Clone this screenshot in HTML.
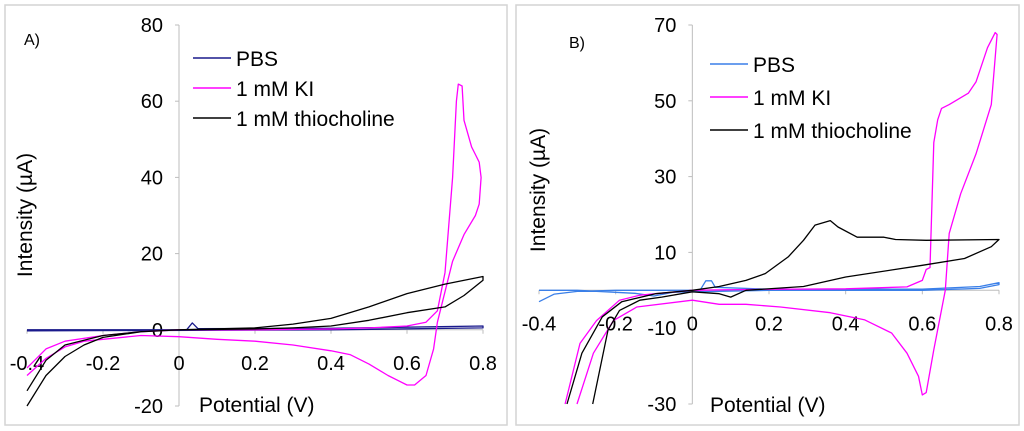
<!DOCTYPE html>
<html><head><meta charset="utf-8"><style>
html,body{margin:0;padding:0;background:#fff;}
svg{display:block;font-family:"Liberation Sans",Arial,sans-serif;}
</style></head><body>
<svg id="c" width="1024" height="431" viewBox="0 0 1024 431" xmlns="http://www.w3.org/2000/svg">
<rect x="5" y="5" width="502" height="420" fill="#fff" stroke="#d4d4d4" stroke-width="1.5"/>
<rect x="516" y="5" width="503" height="420" fill="#fff" stroke="#d4d4d4" stroke-width="1.5"/>
<g id="ga"></g>
<g id="gb"></g>
</svg>
<script>
// ---- Panel A data ----
const xTicksA = [-0.4,-0.2,0,0.2,0.4,0.6,0.8];
const yTicksA = [-20,0,20,40,60,80];
const pbsA = [[-0.4,0],[0.02,0],[0.035,1.8],[0.05,0.3],[0.4,0.4],[0.8,1],[0.8,0.5],[0.4,0],[-0.4,-0.3]];
const kiA = [[-0.4,-10],[-0.35,-5],[-0.3,-3],[-0.2,-1.5],[-0.1,-0.5],[0,0],[0.2,0],[0.4,0.2],[0.5,0.5],[0.6,1],[0.65,2],[0.68,5],[0.7,15],[0.72,40],[0.73,60],[0.735,64.5],[0.745,64],[0.75,55],[0.77,48],[0.78,46],[0.79,44],[0.795,40],[0.79,33],[0.78,30],[0.75,25],[0.72,18],[0.7,10],[0.68,2],[0.67,-5],[0.65,-12],[0.62,-14.5],[0.6,-14.5],[0.55,-12],[0.5,-9],[0.45,-6.5],[0.4,-5.5],[0.3,-4],[0.2,-3],[0.1,-2.5],[0,-1.8],[-0.1,-1.5],[-0.2,-2.5],[-0.25,-3],[-0.3,-4.5],[-0.35,-7.5],[-0.4,-12]];
const thioA = [[-0.4,-20],[-0.35,-12],[-0.3,-7],[-0.25,-4],[-0.2,-2],[-0.1,-0.5],[0,0],[0.2,0.5],[0.3,1.5],[0.4,3],[0.5,6],[0.6,9.5],[0.7,12],[0.8,14],[0.8,13],[0.75,9],[0.7,6],[0.6,4.5],[0.5,2.5],[0.4,1],[0.3,0.5],[0.2,0.2],[0,0],[-0.1,-0.5],[-0.2,-1.5],[-0.3,-4],[-0.35,-8],[-0.4,-16]];
// ---- Panel B data ----
const xTicksB = [-0.4,-0.2,0,0.2,0.4,0.6,0.8];
const yTicksB = [-30,-10,10,30,50,70];
const pbsB = [[-0.4,-3],[-0.36,-1],[-0.3,-0.3],[-0.2,0],[0,0],[0.02,0],[0.035,2.5],[0.05,2.5],[0.06,0.8],[0.2,0.3],[0.6,0.3],[0.75,1],[0.8,2],[0.8,1.5],[0.75,0.5],[0.6,0],[0.2,0],[-0.05,-0.5],[-0.1,-1.5],[-0.15,-0.8],[-0.3,0],[-0.4,0]];
const kiB = [[-0.332,-30],[-0.293,-14],[-0.25,-8],[-0.19,-2.6],[-0.137,-1.3],[0,0],[0.14,0.2],[0.4,0.4],[0.56,0.9],[0.6,2.6],[0.61,5.5],[0.62,6],[0.63,39],[0.64,45],[0.65,48],[0.67,49],[0.72,52],[0.74,55],[0.77,64],[0.79,68],[0.795,67.5],[0.78,49],[0.74,36],[0.7,25.5],[0.67,15],[0.66,0],[0.63,-15.7],[0.61,-27],[0.6,-27.6],[0.59,-22.7],[0.56,-16.6],[0.52,-11.3],[0.45,-7.8],[0.36,-5.9],[0.23,-4.4],[0.14,-3.7],[0.07,-3.7],[0,-2.6],[-0.145,-4.4],[-0.206,-8],[-0.258,-16.6],[-0.301,-30]];
const thioB = [[-0.327,-30],[-0.288,-16.6],[-0.235,-7],[-0.184,-3],[-0.096,-0.9],[0,0],[0.07,1],[0.14,2.6],[0.19,4.4],[0.25,8.8],[0.29,13.2],[0.32,17.2],[0.36,18.4],[0.38,16.7],[0.43,14],[0.5,14],[0.53,13.4],[0.61,13.2],[0.8,13.4],[0.78,11.5],[0.71,8.4],[0.6,6.6],[0.4,3.5],[0.29,1],[0.14,0],[0.1,-1.8],[0.07,-0.9],[0,-0.4],[-0.08,-1.8],[-0.137,-2.6],[-0.19,-5.3],[-0.22,-10.5],[-0.26,-30]];

const NS="http://www.w3.org/2000/svg";
function mk(parent,tag,attrs){const e=document.createElementNS(NS,tag);for(const k in attrs)e.setAttribute(k,attrs[k]);parent.appendChild(e);return e;}

function panel(g,cfg){
  const sx=v=>cfg.x0+(v-cfg.xmin)*(cfg.x1-cfg.x0)/(cfg.xmax-cfg.xmin);
  const sy=v=>cfg.y0+(v-cfg.ymin)*(cfg.y1-cfg.y0)/(cfg.ymax-cfg.ymin);
  const ax=sx(0), ay=sy(0);
  let e=mk(g,'line',{x1:ax,y1:sy(cfg.ymin),x2:ax,y2:sy(cfg.ymax),stroke:'#bdbdbd','stroke-width':1});
  
  
  e=mk(g,'line',{x1:sx(cfg.xmin),y1:ay,x2:sx(cfg.xmax),y2:ay,stroke:'#bdbdbd','stroke-width':1});
  
  
  cfg.yt.forEach(v=>{
    const t=mk(g,'line',{x1:ax-4,y1:sy(v),x2:ax,y2:sy(v),stroke:'#bdbdbd'});
    
    
    const l=mk(g,'text',{x:ax-16,y:sy(v)+7,'text-anchor':'end','font-size':20,fill:'#000'});
    l.textContent=v;
    
    
  });
  cfg.xt.forEach(v=>{
    const t=mk(g,'line',{x1:sx(v),y1:ay,x2:sx(v),y2:ay+4,stroke:'#bdbdbd'});
    
    
    const l=mk(g,'text',{x:sx(v),y:ay+cfg.xlOff,'text-anchor':'middle','font-size':20,fill:'#000'});
    l.textContent=v;
    
    
  });
  cfg.series.forEach(s=>{
    const p=mk(g,'path',{d:s.d.map((q,i)=>(i?'L':'M')+sx(q[0]).toFixed(1)+','+sy(q[1]).toFixed(1)).join(''),fill:'none',stroke:s.c,'stroke-width':1.3,'stroke-linejoin':'round'});
    
    
  });
  cfg.legend.forEach((s,i)=>{
    const y=cfg.ly+i*cfg.lgap;
    const l=mk(g,'line',{x1:cfg.lx,y1:y,x2:cfg.lx+38,y2:y,stroke:s.c,'stroke-width':1.5});
    
    
    const t=mk(g,'text',{x:cfg.lx+43,y:y+8,'font-size':21,fill:'#000'});
    t.textContent=s.n;
    
    
  });
  let t=mk(g,'text',{x:cfg.xtX,y:412,'font-size':21,fill:'#000'});
  t.textContent='Potential (V)';
  
  
  t=mk(g,'text',{x:0,y:0,'font-size':21,fill:'#000','text-anchor':'middle',transform:`translate(${cfg.ytX},${cfg.ytY}) rotate(-90)`});
  t.textContent='Intensity (\u00b5A)';
  
  
  t=mk(g,'text',{x:cfg.pX,y:cfg.pY,'font-size':16,fill:'#000'});
  t.textContent=cfg.label;
  
  
}
panel(document.getElementById('ga'),{xmin:-0.4,xmax:0.8,x0:27,x1:483,ymin:-20,ymax:80,y0:406,y1:25,xt:xTicksA,yt:yTicksA,xlOff:40,
  series:[{d:pbsA,c:'#1a1a8c',n:'pbs-line'},{d:kiA,c:'#ff00ff',n:'ki-line'},{d:thioA,c:'#000',n:'thiocholine-line'}],
  legend:[{n:'PBS',c:'#1a1a8c'},{n:'1 mM KI',c:'#ff00ff'},{n:'1 mM thiocholine',c:'#000'}],lx:193,ly:58,lgap:30,
  xtX:199,ytX:32,ytY:215,pX:24,pY:45,label:'A)'});
panel(document.getElementById('gb'),{xmin:-0.4,xmax:0.8,x0:539,x1:999,ymin:-30,ymax:70,y0:404,y1:25,xt:xTicksB,yt:yTicksB,xlOff:40,
  series:[{d:pbsB,c:'#3a7fe8',n:'pbs-line'},{d:kiB,c:'#ff00ff',n:'ki-line'},{d:thioB,c:'#000',n:'thiocholine-line'}],
  legend:[{n:'PBS',c:'#3a7fe8'},{n:'1 mM KI',c:'#ff00ff'},{n:'1 mM thiocholine',c:'#000'}],lx:710,ly:64,lgap:33,
  xtX:710,ytX:545,ytY:190,pX:569,pY:48,label:'B)'});
</script>
</body></html>
